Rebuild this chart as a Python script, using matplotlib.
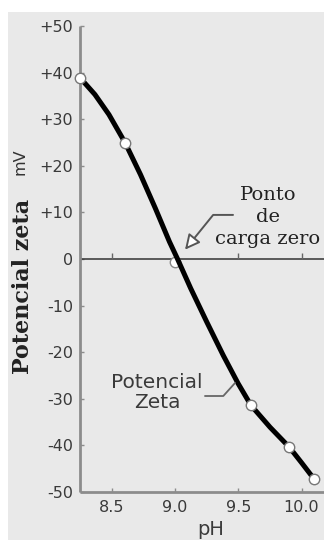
import matplotlib
matplotlib.use("Agg")
import matplotlib.pyplot as plt
from matplotlib.patches import Rectangle

# ---- data ----
data_ph = [8.247, 8.605, 9.60, 9.904, 10.099]
data_mv = [38.9, 24.9, -31.4, -40.4, -47.2]
pzc_ph = [9.0]
pzc_mv = [-0.6]

curve_ph = [8.247, 8.365, 8.476, 8.605, 8.726, 8.843, 8.955, 9.019, 9.123,
            9.250, 9.381, 9.498, 9.600, 9.751, 9.904, 10.000, 10.099]
curve_mv = [38.9, 35.3, 31.0, 24.9, 18.1, 10.9, 3.7, 0.0, -6.3,
            -13.5, -20.7, -26.7, -31.4, -36.1, -40.4, -43.7, -47.2]

x_ticks = [8.5, 9.0, 9.5, 10.0]
x_labels = ["8.5", "9.0", "9.5", "10.0"]
y_ticks = [50, 40, 30, 20, 10, 0, -10, -20, -30, -40, -50]
y_labels = ["+50", "+40", "+30", "+20", "+10", "0", "-10", "-20", "-30", "-40", "-50"]

W, H = 324, 540
fig = plt.figure(figsize=(W / 100, H / 100), dpi=100)
fig.patch.set_facecolor("white")
fig.patches.append(Rectangle((8 / W, 0), 1, 1 - 12 / H, transform=fig.transFigure,
                             facecolor="#e9e9e9", edgecolor="none", zorder=-10))

ax = fig.add_axes([80 / W, 1 - 492 / H, 1 - 80 / W, (492 - 26) / H])
ax.patch.set_alpha(0)
ax.set_xlim(8.247, 10.178)
ax.set_ylim(-50, 50)

for s in ("top", "right"):
    ax.spines[s].set_visible(False)
for s in ("left", "bottom"):
    ax.spines[s].set_color("#8c8c8c")
    ax.spines[s].set_linewidth(2)
    ax.spines[s].set_capstyle("butt")

ax.set_xticks(x_ticks)
ax.set_xticklabels(x_labels)
ax.set_yticks(y_ticks)
ax.set_yticklabels(y_labels)
ax.tick_params(direction="in", length=3, width=1, color="#8c8c8c",
               labelsize=11.5, labelcolor="#3a3a3a")
ax.tick_params(axis="y", pad=5)
ax.tick_params(axis="x", pad=6)

# zero line with small upward ticks
ax.axhline(0, color="#333333", lw=1.1, zorder=2)
ax.plot(x_ticks, [0] * len(x_ticks), ls="none", marker=2, ms=4, mew=1,
        color="#666666", zorder=2)

# point of zero charge marker (behind curve)
ax.plot(pzc_ph, pzc_mv, "o", ms=7.5, mfc="white", mec="#888888", mew=1, zorder=2.5)
# curve
ax.plot(curve_ph, curve_mv, color="black", lw=3.6, solid_joinstyle="round",
        solid_capstyle="butt", zorder=3, clip_on=False)
# data markers
ax.plot(data_ph, data_mv, "o", ms=7.5, mfc="white", mec="#777777", mew=1,
        zorder=4, clip_on=False)

# annotation: Ponto de carga zero
ax.text(9.735, 9.0, "Ponto\nde\ncarga zero", family="DejaVu Serif", fontsize=14,
        ha="center", va="center", ma="center", linespacing=1.3, color="#222222")
ax.annotate("", xy=(9.078, 2.0), xytext=(9.458, 9.46),
            arrowprops=dict(arrowstyle="-|>,head_length=0.9,head_width=0.45",
                            connectionstyle="angle,angleA=0,angleB=51,rad=0",
                            fc="white", ec="#555555", lw=1.4,
                            shrinkA=0, shrinkB=0))

# annotation: Potencial Zeta
ax.text(8.856, -28.7, "Potencial\nZeta", family="DejaVu Sans", fontsize=14.5,
        ha="center", va="center", ma="center", linespacing=1.05, color="#3a3a3a")
ax.annotate("", xy=(9.474, -26.6), xytext=(9.236, -29.4),
            arrowprops=dict(arrowstyle="-", connectionstyle="angle,angleA=0,angleB=48,rad=0",
                            color="#666666", lw=1.3, shrinkA=0, shrinkB=0))

# axis labels
fig.text(23 / W, 1 - 286.5 / H, "Potencial zeta", rotation=90, family="DejaVu Serif",
         fontweight="bold", fontsize=16, ha="center", va="center", color="#222222")
fig.text(20 / W, 1 - 161.5 / H, "mV", rotation=90, family="DejaVu Sans",
         fontsize=11.5, ha="center", va="center", color="#333333")
fig.text(211 / W, 1 - 535 / H, "pH", family="DejaVu Sans", fontsize=14,
         ha="center", va="baseline", color="#3a3a3a")

fig.savefig("out.png", dpi=100, facecolor=fig.get_facecolor())
